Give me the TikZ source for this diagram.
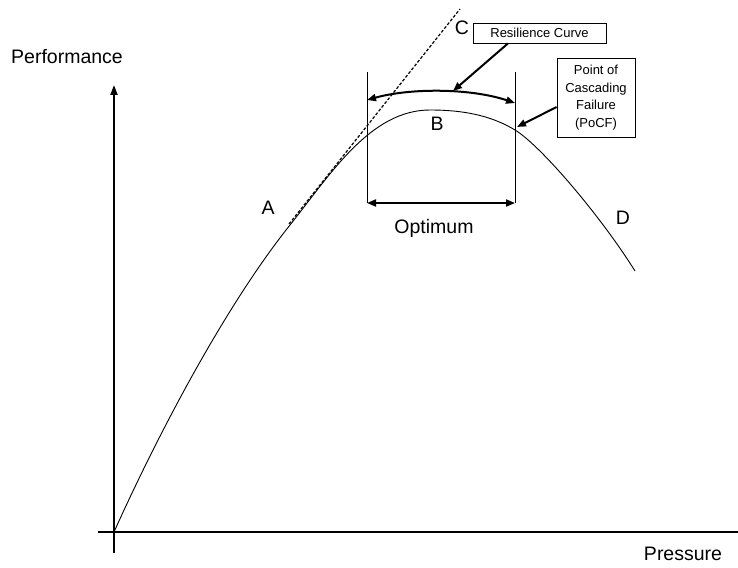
\documentclass[tikz,border=0pt]{standalone}
\usepackage{fontspec}
\setmainfont{Liberation Sans}
\usetikzlibrary{arrows.meta}
\begin{document}
\begin{tikzpicture}[x=1pt,y=-1pt,
  lbl/.style={inner sep=0pt,font=\fontsize{19.5}{23}\selectfont},
  boxtxt/.style={draw,line width=0.8pt,inner sep=0pt,align=center,font=\fontsize{13}{17.5}\selectfont},
  axis/.style={line width=2pt},
  thin/.style={line width=0.9pt},
  thickarrow/.style={line width=2pt,-{Triangle[length=9pt,width=7pt]}},
  dblarrow/.style={line width=2pt,{Triangle[length=9pt,width=7pt]}-{Triangle[length=9pt,width=7pt]}}]
\useasboundingbox (0,0) rectangle (738,567);
% axes
\coordinate (O) at (114,532);
\coordinate (ybot) at (114,553);
\coordinate (ytop) at (114,85);
\coordinate (xleft) at (98,532);
\coordinate (xright) at (738,532);
\draw[axis] (xleft) -- (xright);
\draw[axis,-{Triangle[length=10pt,width=7pt]}] (ybot) -- (ytop);
\node[lbl] (perf) at (67,57) {Performance};
\node[lbl] (press) at (683,554) {Pressure};
% curve
\coordinate (pA) at (290,225);
\coordinate (pPeak) at (430,110);
\coordinate (pF) at (515,130);
\coordinate (pEnd) at (635,271);
\draw[thin] (O) .. controls (159,432) and (226,305) .. (pA)
  .. controls (330,175) and (370,110) .. (pPeak)
  .. controls (470,110) and (495,118) .. (pF)
  .. controls (540,145) and (600,215) .. (pEnd);
% tangent
\coordinate (tA) at (289,224);
\coordinate (tC) at (460,9);
\draw[line width=1.2pt,dash pattern=on 3pt off 1.8pt] (tA) -- (tC);
% optimum bounds
\coordinate (l1) at (367,72);
\coordinate (l2) at (367,203);
\coordinate (r1) at (515,72);
\coordinate (r2) at (515,203);
\draw[thin] (l1) -- (l2);
\draw[thin] (r1) -- (r2);
\draw[dblarrow] (l2) -- (r2);
\node[lbl] (opt) at (434,228) {Optimum};
% resilience arc
\coordinate (arcL) at (367,100);
\coordinate (arcR) at (515,103);
\draw[dblarrow] (arcL) .. controls (410,88) and (470,88) .. (arcR);
% boxes
\node[boxtxt,minimum width=133pt,minimum height=20pt] (res) at (539.5,33) {Resilience Curve};
\node[boxtxt,minimum width=78pt,minimum height=79pt] (pocf) at (596,97.5) {Point of\\Cascading\\Failure\\(PoCF)};
\coordinate (resTip) at (453,91);
\coordinate (pocfTip) at (517,127);
\draw[thickarrow] (res.south -| 508,0) -- (resTip);
\draw[thickarrow] (pocf.west |- 0,107) -- (pocfTip);
% letters
\node[lbl] (A) at (268,208) {A};
\node[lbl] (B) at (437,124) {B};
\node[lbl] (C) at (462,28) {C};
\node[lbl] (D) at (623,218) {D};
\end{tikzpicture}
\end{document}
